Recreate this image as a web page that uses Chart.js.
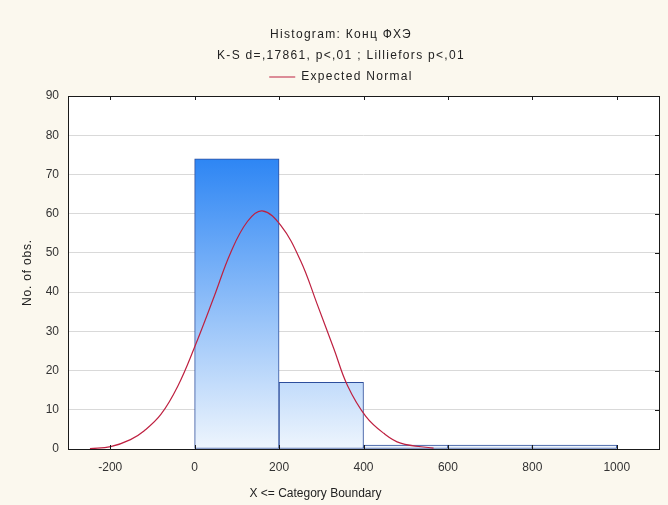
<!DOCTYPE html>
<html>
<head>
<meta charset="utf-8">
<script src="https://cdn.jsdelivr.net/npm/chart.js@4"></script>
<style>
  html, body { margin: 0; padding: 0; background: #FBF8EE; }
  #c { display: block; }
</style>
</head>
<body>
<canvas id="c" width="668" height="505"></canvas>
<script>
// ---- data ----
const titleLines = ['Histogram: Конц ФХЭ', 'K-S d=,17861, p<,01 ; Lilliefors p<,01'];
const binStarts = [0, 200, 400, 600, 800];
const binEnds   = [200, 400, 600, 800, 1000];
const binCounts = [74, 17, 1, 1, 1];
const curveX = [-248, -199, -152, -120, -80, -40, 0, 46, 85, 125, 160, 204, 251, 290, 330, 362, 405, 448, 488, 566];
const curveY = [0.1, 0.6, 2.4, 4.6, 8.8, 16.0, 26, 38.8, 50, 58, 60.7, 57, 48, 37, 25.5, 16.2, 8.4, 4, 1.5, 0.2];
const xTicks = [-200, 0, 200, 400, 600, 800, 1000];
const yTicks = [0, 10, 20, 30, 40, 50, 60, 70, 80, 90];
const curveLabel = 'Expected Normal';
const xTitle = 'X <= Category Boundary';
const yTitle = 'No. of obs.';

const barData = binStarts.map((s, i) => ({ x: (s + binEnds[i]) / 2, y: binCounts[i] }));
const curveData = curveX.map((x, i) => ({ x: x, y: curveY[i] }));

const FONT = "'Liberation Sans', Arial, sans-serif";

function withSpacing(obj, method, spacing) {
  if (!obj || obj['_ls_' + method]) return;
  const orig = obj[method].bind(obj);
  obj[method] = function () {
    const c = this.ctx;
    const prev = c.letterSpacing;
    c.letterSpacing = spacing;
    const r = orig.apply(null, arguments);
    c.letterSpacing = prev;
    return r;
  };
  obj['_ls_' + method] = true;
}

const bgPlugin = {
  id: 'bg',
  beforeLayout(chart) {
    withSpacing(chart.titleBlock, 'draw', '1.3px');
    withSpacing(chart.legend, 'fit', '1.3px');
    withSpacing(chart.legend, 'draw', '1.3px');
  },
  beforeDraw(chart) {
    const { ctx, chartArea: a } = chart;
    // x-axis title in the reference sits left of the plot centre
    const sx = chart.scales.x;
    if (sx && !sx._titleShift) {
      const orig = sx.drawTitle.bind(sx);
      sx.drawTitle = function () {
        const l = this.left, r = this.right;
        this.left = l - 48; this.right = r - 48;
        orig();
        this.left = l; this.right = r;
      };
      sx._titleShift = true;
    }
    const sy = chart.scales.y;
    if (sy && !sy._ls_drawTitle) withSpacing(sy, 'drawTitle', '0.8px');
    ctx.save();
    ctx.fillStyle = '#FBF8EE';
    ctx.fillRect(0, 0, chart.width, chart.height);
    ctx.fillStyle = '#FFFFFF';
    ctx.fillRect(a.left, a.top, a.right - a.left, a.bottom - a.top);
    ctx.restore();
  },
  afterDatasetsDraw(chart) {
    const { ctx, chartArea: a, scales } = chart;
    ctx.save();
    ctx.strokeStyle = '#1a1a1a';
    ctx.lineWidth = 1;
    ctx.strokeRect(Math.round(a.left) + 0.5, Math.round(a.top) + 0.5,
                   Math.round(a.right - a.left), Math.round(a.bottom - a.top));
    ctx.beginPath();
    const L = 4;
    xTicks.forEach(v => {
      const px = Math.round(scales.x.getPixelForValue(v)) + 0.5;
      ctx.moveTo(px, a.top); ctx.lineTo(px, a.top + L);
      ctx.moveTo(px, a.bottom); ctx.lineTo(px, a.bottom - L);
    });
    yTicks.forEach(v => {
      const py = Math.round(scales.y.getPixelForValue(v)) + 0.5;
      ctx.moveTo(a.right, py); ctx.lineTo(a.right - L, py);
    });
    ctx.stroke();
    ctx.restore();
  }
};

function barGradient(context) {
  const chart = context.chart;
  const a = chart.chartArea;
  if (!a) return '#6aa8f4';
  const g = chart.ctx.createLinearGradient(0, a.bottom, 0, a.top);
  g.addColorStop(0, '#EEF5FD');
  g.addColorStop(0.82, '#2E86F4');
  g.addColorStop(1, '#1F7AF0');
  return g;
}

new Chart(document.getElementById('c'), {
  type: 'bar',
  data: {
    datasets: [
      {
        type: 'bar',
        label: 'Histogram',
        data: barData,
        backgroundColor: barGradient,
        borderColor: '#2D4E9C',
        borderWidth: 1,
        borderSkipped: false,
        barPercentage: 1,
        categoryPercentage: 1,
        order: 2
      },
      {
        type: 'line',
        label: curveLabel,
        data: curveData,
        borderColor: '#BE2040',
        backgroundColor: '#BE2040',
        borderWidth: 1.2,
        pointRadius: 0,
        fill: false,
        tension: 0.4,
        order: 1
      }
    ]
  },
  options: {
    responsive: false,
    animation: false,
    layout: { padding: { left: 23, right: 9, top: 0, bottom: 0 } },
    plugins: {
      tooltip: { enabled: false },
      title: {
        display: true,
        text: titleLines,
        color: '#222',
        font: { family: FONT, size: 12, weight: 'normal', lineHeight: 1.75 },
        padding: { top: 24, bottom: 0 }
      },
      subtitle: {
        display: true,
        text: '',
        weight: 500,
        font: { size: 1, lineHeight: 1 },
        padding: { top: 2, bottom: 0 }
      },
      legend: {
        display: true,
        labels: {
          filter: item => item.text === curveLabel,
          color: '#222',
          font: { family: FONT, size: 12 },
          boxWidth: 26,
          boxHeight: 0,
          padding: 5
        }
      }
    },
    scales: {
      x: {
        type: 'linear',
        offset: false,
        min: -300,
        max: 1100,
        afterBuildTicks: axis => { axis.ticks = xTicks.map(v => ({ value: v })); },
        afterFit: s => { s.height = 56; },
        grid: { display: false, drawTicks: false, offset: false },
        border: { display: false },
        ticks: { color: '#333', font: { family: FONT, size: 12 }, padding: 11, maxRotation: 0,
                 callback: v => String(v) },
        title: { display: true, text: xTitle, color: '#222', font: { family: FONT, size: 12 }, padding: { top: 0, bottom: 4 } }
      },
      y: {
        min: 0,
        max: 90,
        afterBuildTicks: axis => { axis.ticks = yTicks.map(v => ({ value: v })); },
        afterFit: s => { s.width = 45; },
        grid: { color: '#D9D9D9', drawTicks: false },
        border: { display: false },
        ticks: { color: '#333', font: { family: FONT, size: 12 }, padding: 9, callback: v => String(v) },
        title: { display: true, text: yTitle, color: '#222', font: { family: FONT, size: 12 }, padding: { top: -3, bottom: 0 } }
      }
    }
  },
  plugins: [bgPlugin]
});
</script>
</body>
</html>
